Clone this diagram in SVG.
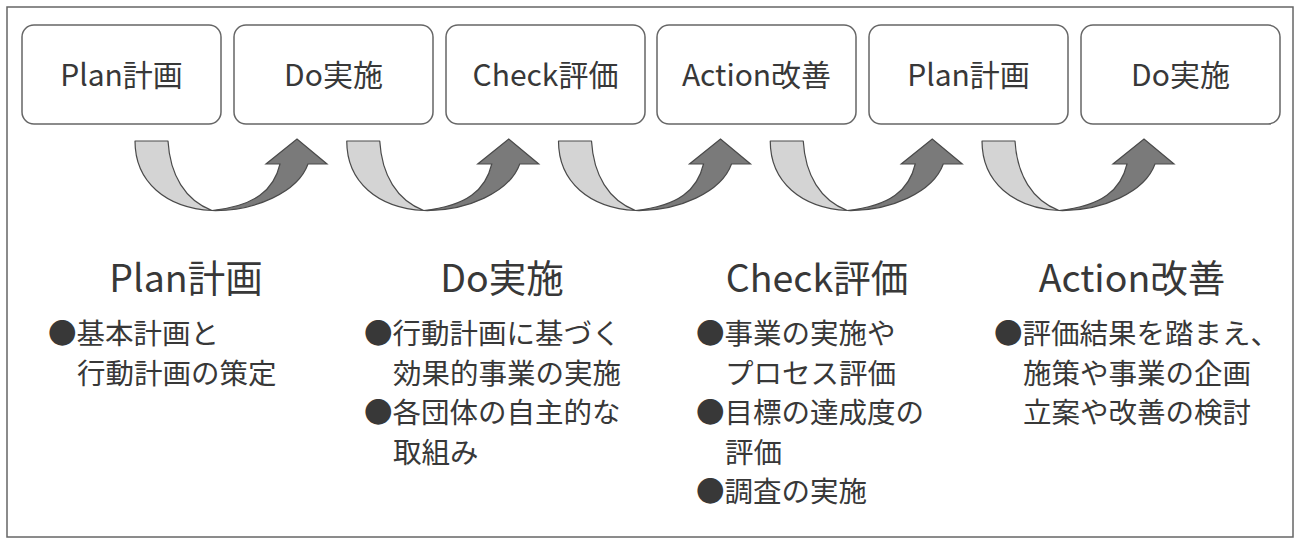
<svg xmlns="http://www.w3.org/2000/svg" xmlns:xlink="http://www.w3.org/1999/xlink" width="1294" height="538" viewBox="0 0 1294 538">
<style>
.frame{fill:#fff;stroke:#666;stroke-width:1.5}
.box{fill:#fff;stroke:#666;stroke-width:1.5}
.t{font-family:"Noto Sans CJK JP","Noto Sans",sans-serif;fill:#383838}
.bt{font-size:30px;text-anchor:middle}
.hd{font-size:37.5px;text-anchor:middle}
.bl{font-size:28.5px}
.lt{fill:#d4d4d4;stroke:#4a4a4a;stroke-width:1.2;stroke-linejoin:round}
.dk{fill:#7a7a7a;stroke:#4a4a4a;stroke-width:1.2;stroke-linejoin:miter}
</style>
<defs>
<g id="uarrow">
<path class="lt" d="M135,141 L168,141 C170,175 185,200 212,210.5 C166,208 135,182 135,141 Z"/>
<path class="dk" d="M212,210.5 C255,211.5 298,192 308,164 L327,164 L297,139 L266,164 L280,164 C274,190 255,206 212,210.5 Z"/>
</g>
</defs>
<rect class="frame" x="7" y="7" width="1286" height="530"/>
<g id="connectors">
<use xlink:href="#uarrow" href="#uarrow"/>
<use xlink:href="#uarrow" href="#uarrow" transform="translate(211.75,0)"/>
<use xlink:href="#uarrow" href="#uarrow" transform="translate(423.5,0)"/>
<use xlink:href="#uarrow" href="#uarrow" transform="translate(635.25,0)"/>
<use xlink:href="#uarrow" href="#uarrow" transform="translate(847,0)"/>
</g>
<g id="box-plan1"><rect class="box" x="22" y="25" width="199" height="99" rx="12"/><text class="t bt" x="121.5" y="86">Plan計画</text></g>
<g id="box-do1"><rect class="box" x="234" y="25" width="199" height="99" rx="12"/><text class="t bt" x="333.5" y="86">Do実施</text></g>
<g id="box-check"><rect class="box" x="446" y="25" width="199" height="99" rx="12"/><text class="t bt" x="545.5" y="86">Check評価</text></g>
<g id="box-action"><rect class="box" x="657" y="25" width="199" height="99" rx="12"/><text class="t bt" x="756.5" y="86">Action改善</text></g>
<g id="box-plan2"><rect class="box" x="869" y="25" width="199" height="99" rx="12"/><text class="t bt" x="968.5" y="86">Plan計画</text></g>
<g id="box-do2"><rect class="box" x="1081" y="25" width="199" height="99" rx="12"/><text class="t bt" x="1180.5" y="86">Do実施</text></g>
<g id="col-plan">
<text class="t hd" x="186" y="292">Plan計画</text>
<text class="t bl" x="48" y="344">●基本計画と</text>
<text class="t bl" x="77" y="384">行動計画の策定</text>
</g>
<g id="col-do">
<text class="t hd" x="502" y="292">Do実施</text>
<text class="t bl" x="364" y="344">●行動計画に基づく</text>
<text class="t bl" x="393" y="384">効果的事業の実施</text>
<text class="t bl" x="364" y="423">●各団体の自主的な</text>
<text class="t bl" x="393" y="463">取組み</text>
</g>
<g id="col-check">
<text class="t hd" x="817" y="292">Check評価</text>
<text class="t bl" x="696" y="344">●事業の実施や</text>
<text class="t bl" x="725" y="384">プロセス評価</text>
<text class="t bl" x="696" y="423">●目標の達成度の</text>
<text class="t bl" x="725" y="463">評価</text>
<text class="t bl" x="696" y="502">●調査の実施</text>
</g>
<g id="col-action">
<text class="t hd" x="1132" y="292">Action改善</text>
<text class="t bl" x="994" y="344">●評価結果を踏まえ、</text>
<text class="t bl" x="1023" y="384">施策や事業の企画</text>
<text class="t bl" x="1023" y="423">立案や改善の検討</text>
</g>
</svg>
